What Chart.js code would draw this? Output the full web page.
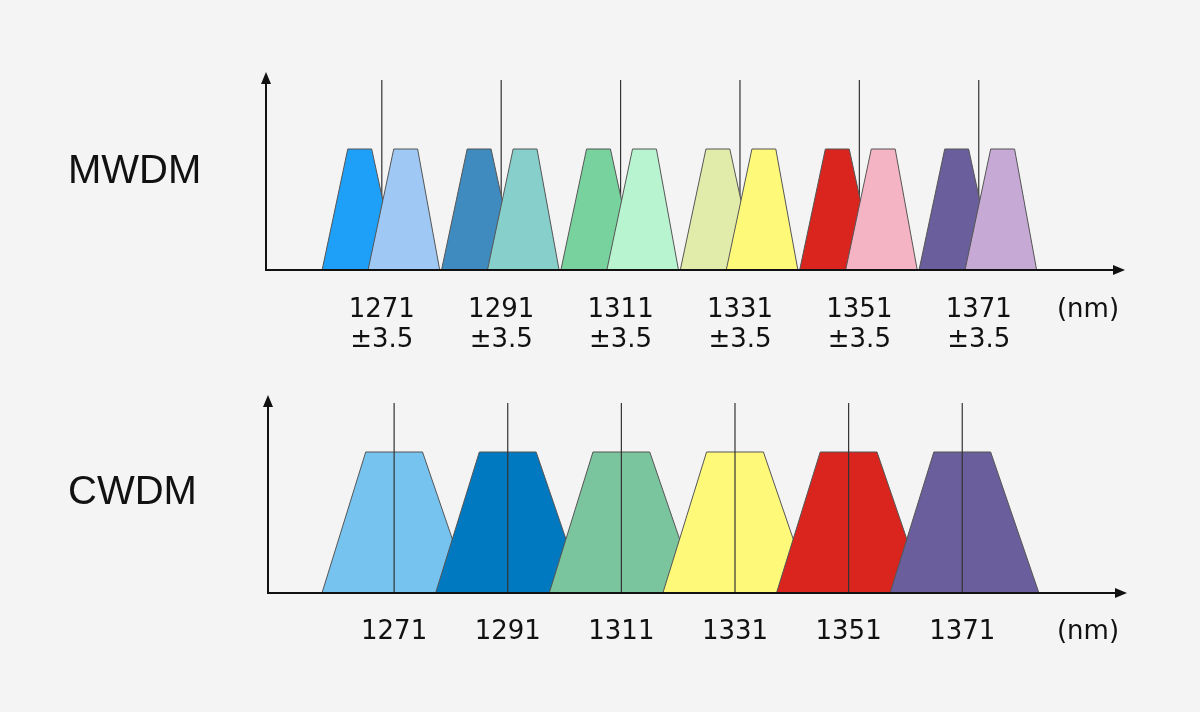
<!DOCTYPE html>
<html><head><meta charset="utf-8">
<script src="https://cdn.jsdelivr.net/npm/chart.js@4"></script>
<style>
body{margin:0;background:#f4f4f4;}
.wrap{position:relative;width:1200px;height:712px;}
canvas{position:absolute;left:0;top:0;}
</style></head><body>
<div class="wrap"><canvas id="mw" width="1200" height="712"></canvas><canvas id="cw" width="1200" height="712"></canvas></div>
<script>
// channel centres (nm)
const centers = [1271, 1291, 1311, 1331, 1351, 1371];
const mwdmTol = "±3.5";
// MWDM: two sub-channels per centre, trapezoid corners as nm offsets
const mwdmLeftShape = [-10, -5.7, -1.7, 2.7];
const mwdmRightShape = [-2.3, 2.0, 6.0, 9.7];
const mwdmLeftColors = ["#1ea0f8", "#3f8bbf", "#78d29e", "#e2ecaa", "#d9251e", "#6b5e9c"];
const mwdmRightColors = ["#9fc8f4", "#86cfcb", "#b8f4d0", "#fff97a", "#f5b4c4", "#c7a9d6"];
// CWDM: one wide channel per centre
const cwdmShape = [-12.7, -5, 5, 13.5];
const cwdmColors = ["#77c3f0", "#0079c0", "#7ac59d", "#fff97a", "#d9251e", "#6b5e9c"];

function trap(c, s, h) {
    return [{x: c + s[0], y: 0}, {x: c + s[1], y: h}, {x: c + s[2], y: h}, {x: c + s[3], y: 0}];
}
function trapSet(c, s, color, order) {
    return {data: trap(c, s, 1), backgroundColor: color, borderColor: "#555", borderWidth: 1,
        fill: true, pointRadius: 0, tension: 0, order: order};
}
function lineSet(c, top, order) {
    return {data: [{x: c, y: 0}, {x: c, y: top}], borderColor: "#333", borderWidth: 1.2,
        fill: false, pointRadius: 0, order: order};
}

const axesPlugin = {
    id: "axes",
    afterDraw(chart, args, o) {
        const ctx = chart.ctx, a = chart.chartArea, xs = chart.scales.x;
        ctx.save();
        ctx.strokeStyle = "#111"; ctx.fillStyle = "#111"; ctx.lineWidth = 2;
        ctx.beginPath();
        ctx.moveTo(a.left, a.top + 8); ctx.lineTo(a.left, a.bottom); ctx.lineTo(a.right - 8, a.bottom);
        ctx.stroke();
        ctx.beginPath();
        ctx.moveTo(a.left, a.top); ctx.lineTo(a.left - 5, a.top + 12); ctx.lineTo(a.left + 5, a.top + 12); ctx.fill();
        ctx.beginPath();
        ctx.moveTo(a.right, a.bottom); ctx.lineTo(a.right - 12, a.bottom - 5); ctx.lineTo(a.right - 12, a.bottom + 5); ctx.fill();
        ctx.font = "40px 'Liberation Sans', Arial, sans-serif";
        ctx.textAlign = "left"; ctx.textBaseline = "middle";
        ctx.fillText(o.title, 68, o.titleY);
        ctx.font = "26px 'DejaVu Sans', sans-serif";
        ctx.textAlign = "center";
        centers.forEach(c => {
            const px = xs.getPixelForValue(c);
            ctx.fillText(String(c), px + o.labelDx, o.labelY);
            if (o.tol) ctx.fillText(o.tol, px + o.labelDx, o.labelY + 30);
        });
        ctx.fillText("(nm)", 1088, o.labelY);
        ctx.restore();
    }
};

function makeChart(id, datasets, pad, xmin, xmax, ymax, opts) {
    return new Chart(document.getElementById(id), {
        type: "line",
        data: {datasets: datasets},
        options: {
            responsive: false, animation: false,
            layout: {padding: pad},
            scales: {
                x: {type: "linear", min: xmin, max: xmax, display: false},
                y: {min: 0, max: ymax, display: false}
            },
            plugins: {legend: {display: false}, tooltip: {enabled: false}, axes: opts}
        },
        plugins: [axesPlugin]
    });
}

// MWDM chart
const mwSets = [];
centers.forEach((c, i) => {
    mwSets.push(trapSet(c, mwdmLeftShape, mwdmLeftColors[i], -2 * i));
    mwSets.push(trapSet(c, mwdmRightShape, mwdmRightColors[i], -2 * i - 1));
    mwSets.push(lineSet(c, 1.57, 100));
});
makeChart("mw", mwSets, {left: 266, right: 75, top: 72, bottom: 442}, 1251.6, 1395.5, 198 / 121,
    {title: "MWDM", titleY: 172, labelY: 310, labelDx: 0, tol: mwdmTol});

// CWDM chart
const cwSets = [];
centers.forEach((c, i) => {
    cwSets.push(trapSet(c, cwdmShape, cwdmColors[i], -i));
    cwSets.push(lineSet(c, 190 / 141, -100));
});
makeChart("cw", cwSets, {left: 268, right: 73, top: 395, bottom: 119}, 1248.8, 1400, 198 / 141,
    {title: "CWDM", titleY: 493, labelY: 632, labelDx: 0, tol: null});
</script>
</body></html>
